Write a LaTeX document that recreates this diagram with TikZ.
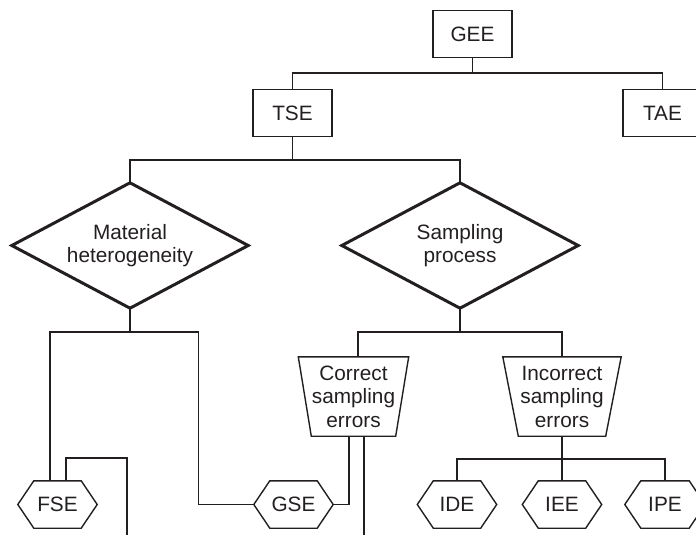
\documentclass[tikz,border=0pt]{standalone}
\usepackage{fontspec}
\setmainfont{Liberation Sans}
\definecolor{ink}{HTML}{231F20}
\begin{document}
\begin{tikzpicture}[x=1pt,y=-1pt,
  every node/.style={inner sep=0pt,align=center,text=ink,font=\fontsize{20.8}{23.5}\selectfont},
  boxnode/.style={draw=ink,line width=1.4pt,minimum width=79pt,minimum height=47pt},
  dianode/.style={minimum width=236pt,minimum height=125pt},
  trapnode/.style={minimum height=79pt},
  hexnode/.style={minimum width=79pt,minimum height=47pt},
  conn/.style={draw=ink,line width=1.2pt},
  shapeline/.style={draw=ink,line width=1.4pt,line join=miter},
  diamline/.style={draw=ink,line width=3pt,line join=miter}]
\useasboundingbox (0,0) rectangle (696,535);
\clip (0,0) rectangle (696,535);
% boxes
\node[boxnode] (GEE) at (472.5,34) {GEE};
\node[boxnode] (TSE) at (292.5,113) {TSE};
\node[boxnode] (TAE) at (662.5,113) {TAE};
% diamonds
\node[dianode] (MH) at (130,245.5) {Material\\heterogeneity};
\node[dianode] (SP) at (460,245.5) {Sampling\\process};
\foreach \n in {MH,SP}
  \draw[diamline] (\n.north) -- (\n.east) -- (\n.south) -- (\n.west) -- cycle;
% trapezoids
\node[trapnode,minimum width=110pt] (CSE) at (353.5,396.5) {Correct\\sampling\\errors};
\node[trapnode,minimum width=118pt] (ISE) at (562,396.5) {Incorrect\\sampling\\errors};
\draw[shapeline] (CSE.north west) -- (CSE.north east) -- ([xshift=-13pt]CSE.south east) -- ([xshift=13pt]CSE.south west) -- cycle;
\draw[shapeline] (ISE.north west) -- (ISE.north east) -- ([xshift=-15.5pt]ISE.south east) -- ([xshift=15.5pt]ISE.south west) -- cycle;
% hexagons
\node[hexnode] (FSE) at (57.5,504.5) {FSE};
\node[hexnode] (GSE) at (293.5,504.5) {GSE};
\node[hexnode] (IDE) at (457,504.5) {IDE};
\node[hexnode] (IEE) at (562,504.5) {IEE};
\node[hexnode,minimum width=80pt] (IPE) at (665,504.5) {IPE};
\foreach \n in {FSE,GSE,IDE,IEE,IPE}
  \draw[shapeline] ([xshift=16pt]\n.north west) -- ([xshift=-16pt]\n.north east) -- (\n.east) -- ([xshift=-16pt]\n.south east) -- ([xshift=16pt]\n.south west) -- (\n.west) -- cycle;
% junction coordinates
\coordinate (b1) at (472.5,73);
\coordinate (b2) at (292.5,160);
\coordinate (b3) at (130,332);
\coordinate (b4) at (460,332);
\coordinate (b5) at (562,459);
\coordinate (fc) at (127,458);
\coordinate (fe) at (127,545);
\coordinate (ce) at (364,545);
% connectors
\draw[conn] (GEE.south) -- (b1);
\draw[conn] (TSE.north) |- (b1) -| (TAE.north);
\draw[conn] (TSE.south) -- (b2);
\draw[conn] (MH.north) |- (b2) -| (SP.north);
\draw[conn] (MH.south) -- (b3);
\draw[conn] ([xshift=-7.5pt]FSE.north) |- (b3) -| ([xshift=-55.5pt]GSE.west) -- (GSE.west);
\draw[conn] ([xshift=8.5pt]FSE.north) |- (fc) -- (fe);
\draw[conn] (GSE.east) -| ([xshift=-4.5pt]CSE.south);
\draw[conn] ([xshift=10.5pt]CSE.south) -- (CSE.south -| ce) -- (ce);
\draw[conn] (SP.south) -- (b4);
\draw[conn] ([xshift=4.5pt]CSE.north) |- (b4) -| (ISE.north);
\draw[conn] (ISE.south) -- (IEE.north);
\draw[conn] (IDE.north) |- (b5) -| (IPE.north);
\end{tikzpicture}
\end{document}
